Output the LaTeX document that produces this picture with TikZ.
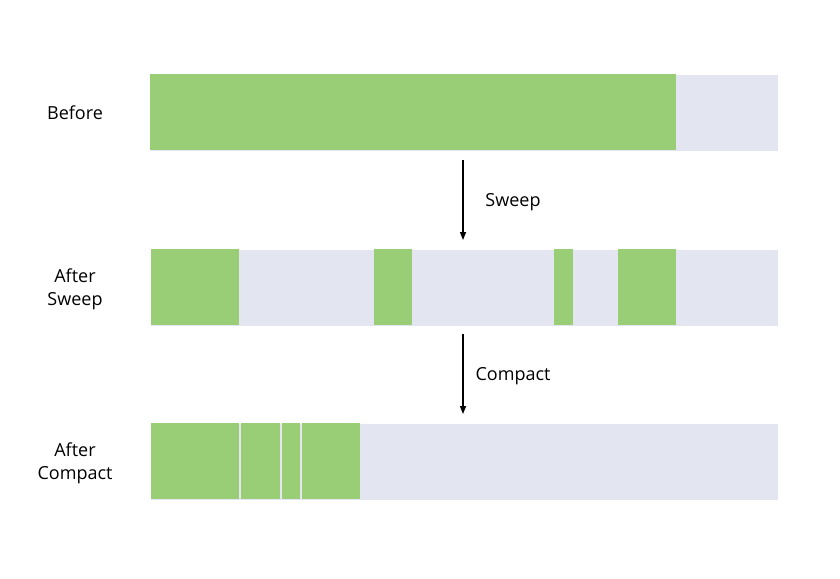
\documentclass[tikz,border=0pt]{standalone}
\usepackage{fontspec}
\setmainfont{Open Sans}
\usetikzlibrary{arrows.meta, positioning}
\definecolor{used}{RGB}{154,206,118}
\definecolor{free}{RGB}{227,229,241}
\tikzstyle{heap}=[fill=free, minimum width=627pt, minimum height=76pt, inner sep=0pt, anchor=north west]
\tikzstyle{stage}=[align=center, font=\fontsize{18}{23}\selectfont]
\tikzstyle{phase}=[anchor=center, inner sep=0pt, xshift=50pt, yshift=-2.5pt, font=\fontsize{18}{23}\selectfont]

\begin{document}
\begin{tikzpicture}[x=1pt, y=-1pt, ->, >={Triangle[length=8pt, width=6pt]}, line width=1.4pt]
    \useasboundingbox (0,0) rectangle (840,578);

    \node[heap] (before)  at (150,74)  {};
    \node[heap] (sweep)   at (150,249) {};
    \node[heap] (compact) at (150,423) {};

    % live objects
    \fill[used] (150,74) rectangle (676,150);
    \foreach \a/\b in {151/239, 374/412, 554/573, 618/676}
      \fill[used] (\a,249) rectangle (\b,325);
    \foreach \a/\b in {151/239, 241/280, 282/300, 302/360}
      \fill[used] (\a,423) rectangle (\b,499);

    \node[stage] (t1) at (75,113) {Before};
    \node[stage] (t2) at (75,289) {After\\Sweep};
    \node[stage] (t3) at (75,463) {After\\Compact};

    \coordinate (a1) at (463,160);
    \coordinate (a2) at (463,240);
    \coordinate (b1) at (463,334);
    \coordinate (b2) at (463,414);

    \path
      (a1) edge node[phase] {Sweep} (a2)
      (b1) edge node[phase] {Compact} (b2);
\end{tikzpicture}
\end{document}
